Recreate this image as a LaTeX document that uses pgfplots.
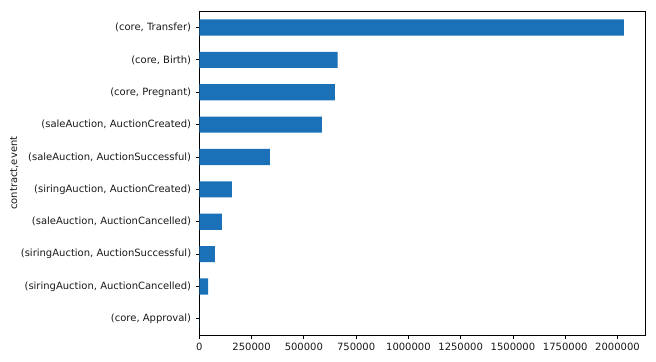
\documentclass[border=0pt]{standalone}
\usepackage{pgfplots}
\pgfplotsset{compat=1.18}
\usepackage{fontspec}
\setmainfont{DejaVu Sans}
\definecolor{barblue}{HTML}{1A71B7}
\begin{document}
\begin{tikzpicture}
\begin{axis}[
  scale only axis,
  width=334.3pt, height=242.8pt,
  xbar, bar width=0.5,
  xmin=0, xmax=2131500,
  ymin=-0.5, ymax=9.5,
  ytick={0,...,9},
  yticklabels={{(core, Approval)},{(siringAuction, AuctionCancelled)},{(siringAuction, AuctionSuccessful)},{(saleAuction, AuctionCancelled)},{(siringAuction, AuctionCreated)},{(saleAuction, AuctionSuccessful)},{(saleAuction, AuctionCreated)},{(core, Pregnant)},{(core, Birth)},{(core, Transfer)}},
  xtick={0,250000,...,2000000},
  scaled x ticks=false,
  xticklabel style={/pgf/number format/fixed,/pgf/number format/1000 sep={}},
  /pgf/number format/assume math mode=true,
  tick align=outside, tick pos=left,
  major tick length=2.6pt,
  tick style={black, line width=0.6pt},
  axis line style={line width=0.6pt},
  ticklabel style={font=\fontsize{7.5pt}{9pt}\selectfont, text=black!90},
  label style={font=\fontsize{7.5pt}{9pt}\selectfont, text=black!90},
  ylabel={contract,event},
  ylabel style={yshift=-5pt},
]
\addplot[fill=barblue, draw=none] coordinates {
  (500,0)
  (41600,1)
  (75000,2)
  (108500,3)
  (156300,4)
  (338000,5)
  (586500,6)
  (648600,7)
  (661600,8)
  (2030000,9)
};
\end{axis}
\pgfresetboundingbox
\path[use as bounding box] ([shift={(-149.5pt,-19.5pt)}]current axis.south west) rectangle ([shift={(8.25pt,8.5pt)}]current axis.north east);
\end{tikzpicture}
\end{document}
